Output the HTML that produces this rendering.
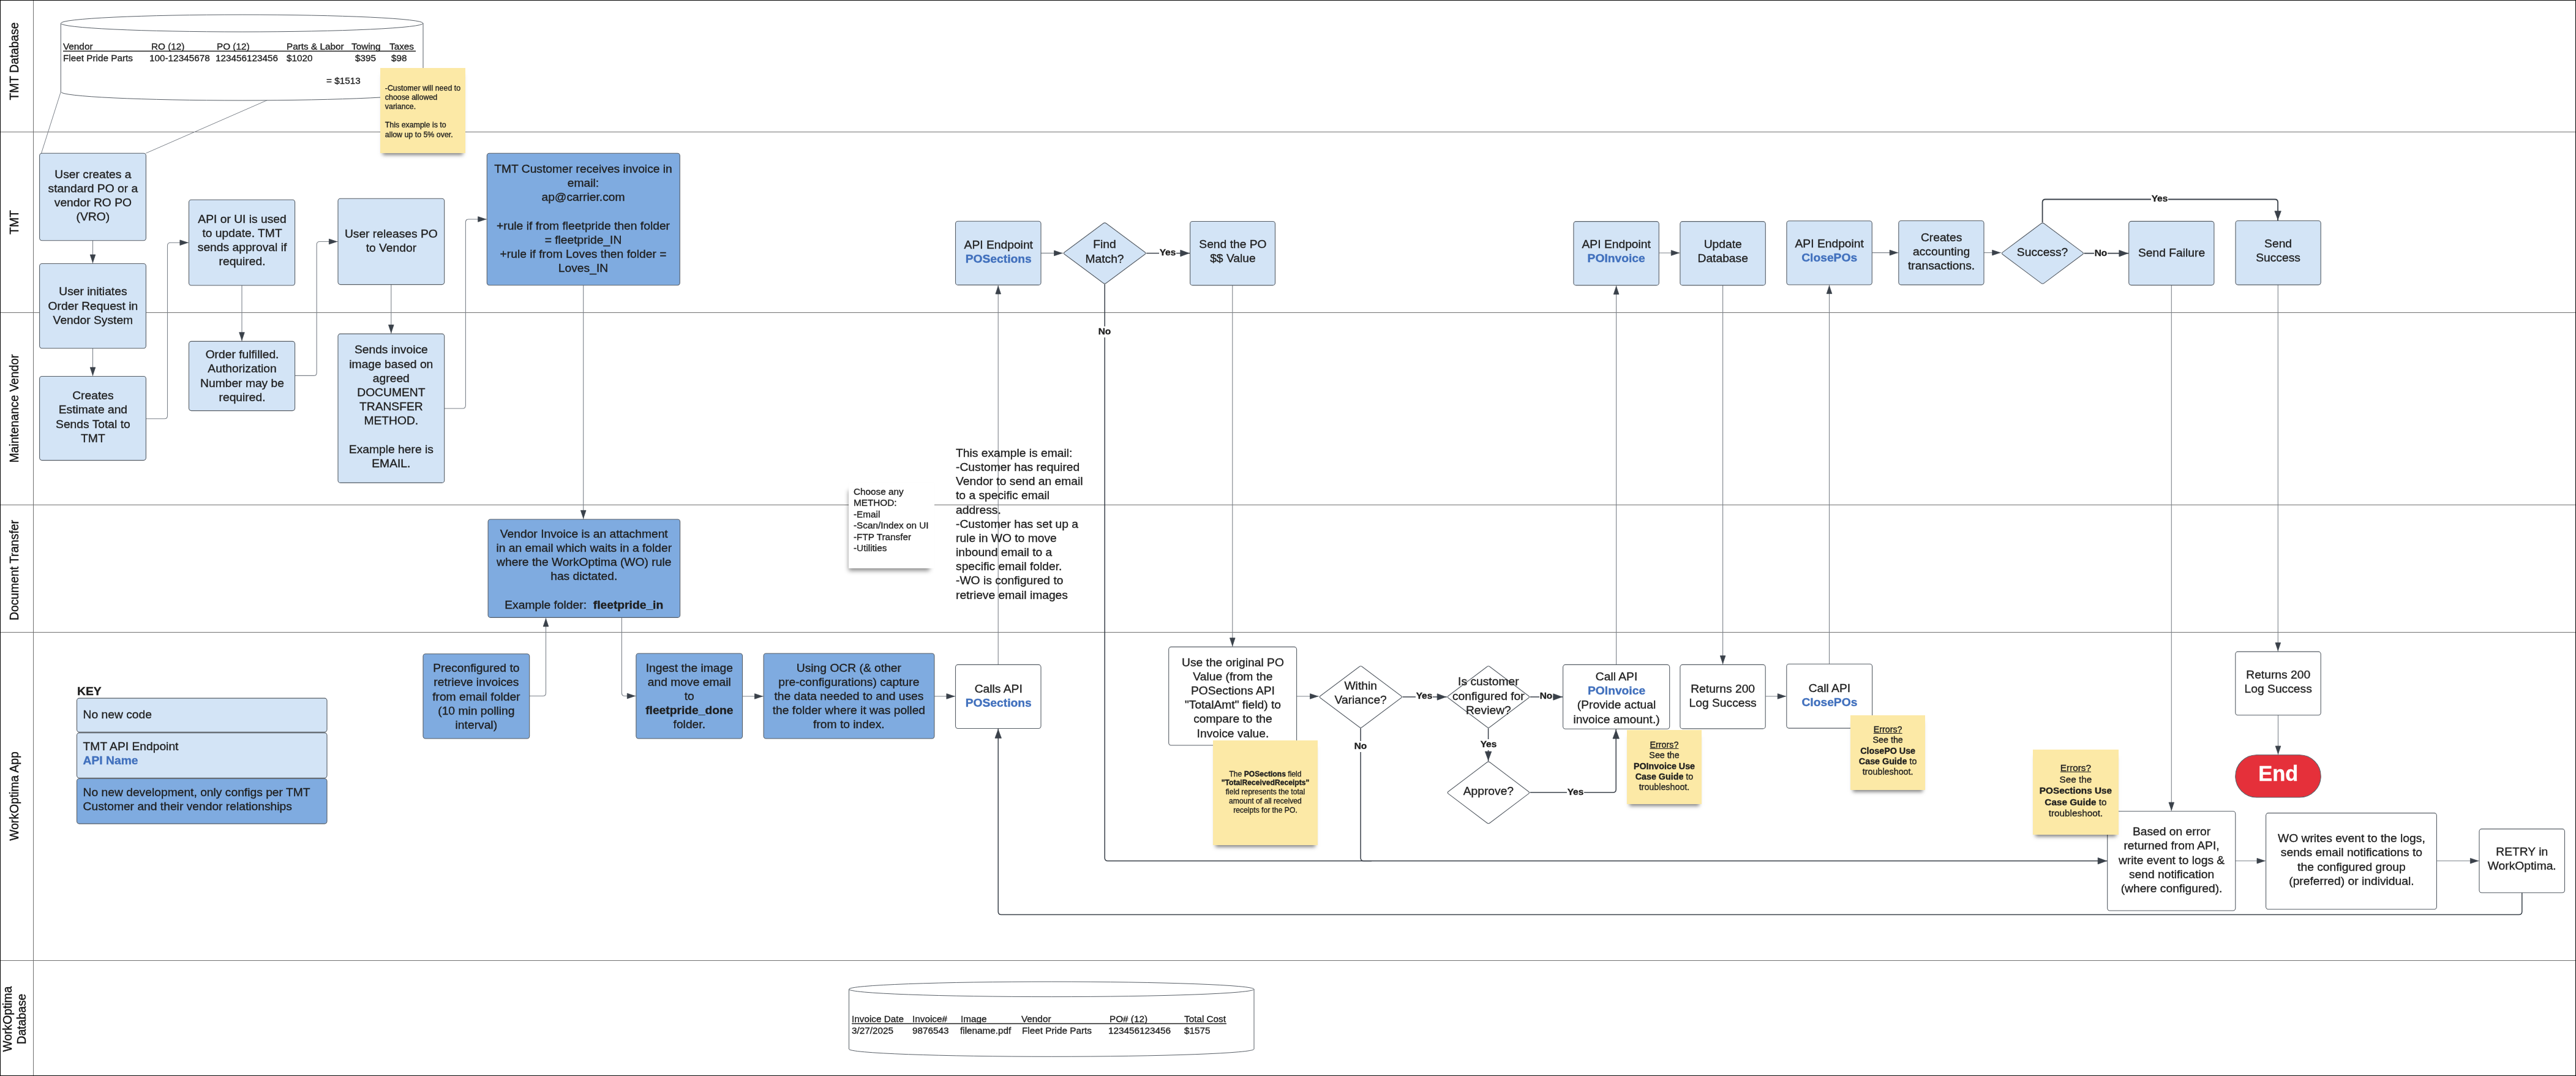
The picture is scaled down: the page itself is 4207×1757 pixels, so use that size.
<!DOCTYPE html>
<html><head><meta charset="utf-8"><title>Swimlane</title>
<style>
html,body{margin:0;padding:0;background:#fff;}
.t,.c,.lbl,.vl{will-change:transform;-webkit-text-stroke:0.35px currentColor;}
#root{position:relative;width:4207px;height:1757px;overflow:hidden;background:#fff;font-family:"Liberation Sans",sans-serif;color:#1f1f1f;}
svg{position:absolute;left:0;top:0;}
.t{position:absolute;display:flex;box-sizing:border-box;white-space:nowrap;}
.c{position:absolute;white-space:nowrap;}
.st{position:absolute;}
.lbl{position:absolute;display:flex;justify-content:center;align-items:flex-start;line-height:16px;color:#1f1f1f;}
.vl{position:absolute;display:flex;justify-content:center;align-items:center;text-align:center;transform:rotate(-90deg);white-space:nowrap;color:#111;}
#frame{position:absolute;left:0;top:0;width:4207px;height:1757px;box-sizing:border-box;border:1px solid #000;pointer-events:none;}
</style></head><body><div id="root">
<svg width="4207" height="1757" viewBox="0 0 4207 1757">
<line x1="0" y1="215.5" x2="4207" y2="215.5" stroke="#707070" stroke-width="1"/>
<line x1="0" y1="510.5" x2="4207" y2="510.5" stroke="#707070" stroke-width="1"/>
<line x1="0" y1="824.5" x2="4207" y2="824.5" stroke="#707070" stroke-width="1"/>
<line x1="0" y1="1032.5" x2="4207" y2="1032.5" stroke="#707070" stroke-width="1"/>
<line x1="0" y1="1568.5" x2="4207" y2="1568.5" stroke="#707070" stroke-width="1"/>
<line x1="54.5" y1="0" x2="54.5" y2="1757" stroke="#707070" stroke-width="1"/>
<path d="M99.3,38 L99.3,150 A295.85,14 0 0 0 691,150 L691,38" fill="#fff" stroke="#565d65" stroke-width="1"/>
<ellipse cx="395.15" cy="38" rx="295.85" ry="14" fill="#fff" stroke="#565d65" stroke-width="1"/>
<line x1="99.3" y1="150" x2="67.5" y2="250.2" stroke="#7c828a" stroke-width="1"/>
<line x1="436.6" y1="163.5" x2="238.3" y2="250.2" stroke="#7c828a" stroke-width="1"/>
<line x1="103" y1="83.4" x2="679" y2="83.4" stroke="#1f1f1f" stroke-width="1.5"/>
<path d="M1386.5,1615.3 L1386.5,1713 A330.75,12.3 0 0 0 2048,1713 L2048,1615.3" fill="#fff" stroke="#565d65" stroke-width="1"/>
<ellipse cx="1717.25" cy="1615.3" rx="330.75" ry="12.3" fill="#fff" stroke="#565d65" stroke-width="1"/>
<line x1="1391" y1="1671.4" x2="2003" y2="1671.4" stroke="#1f1f1f" stroke-width="1.5"/>
<path d="M151.5,392.7 L151.5,430.5" fill="none" stroke="#7c828a" stroke-width="1.1"/>
<path d="M151.5,568.8 L151.5,614.5" fill="none" stroke="#7c828a" stroke-width="1.1"/>
<path d="M238.4,683.8 L268.5,683.8 Q273.5,683.8 273.5,678.8 L273.5,401.2 Q273.5,396.2 278.5,396.2 L308.5,396.2" fill="none" stroke="#7c828a" stroke-width="1.1"/>
<path d="M395.0,466.0 L395.0,557.4" fill="none" stroke="#7c828a" stroke-width="1.1"/>
<path d="M481.6,613.4 L512.2,613.4 Q517.2,613.4 517.2,608.4 L517.2,399.5 Q517.2,394.5 522.2,394.5 L552.0,394.5" fill="none" stroke="#7c828a" stroke-width="1.1"/>
<path d="M638.8,464.6 L638.8,545.1" fill="none" stroke="#7c828a" stroke-width="1.1"/>
<path d="M725.7,667.0 L755.4,667.0 Q760.4,667.0 760.4,662.0 L760.4,363.0 Q760.4,358.0 765.4,358.0 L795.3,358.0" fill="none" stroke="#7c828a" stroke-width="1.1"/>
<path d="M952.7,465.8 L952.7,848.0" fill="none" stroke="#7c828a" stroke-width="1.1"/>
<path d="M864.7,1136.5 L886.5,1136.5 Q891.5,1136.5 891.5,1131.5 L891.5,1008.4" fill="none" stroke="#7c828a" stroke-width="1.1"/>
<path d="M1015.4,1008.4 L1015.4,1131.5 Q1015.4,1136.5 1020.4,1136.5 L1038.9,1136.5" fill="none" stroke="#7c828a" stroke-width="1.1"/>
<path d="M1212.5,1137.0 L1247.1,1137.0" fill="none" stroke="#7c828a" stroke-width="1.1"/>
<path d="M1525.9,1137.0 L1560.5,1137.0" fill="none" stroke="#7c828a" stroke-width="1.1"/>
<path d="M1630.2,1085.4 L1630.2,465.4" fill="none" stroke="#7c828a" stroke-width="1.1"/>
<path d="M1700.0,413.4 L1736.2,413.4" fill="none" stroke="#7c828a" stroke-width="1.1"/>
<path d="M1872.2,413.5 L1943.6,413.5" fill="none" stroke="#3a414a" stroke-width="1.5"/>
<path d="M1804.2,464.0 L1804.2,1400.8 Q1804.2,1405.8 1809.2,1405.8 L3442.0,1405.8" fill="none" stroke="#3a414a" stroke-width="1.5"/>
<path d="M2012.8,465.9 L2012.8,1056.4" fill="none" stroke="#7c828a" stroke-width="1.1"/>
<path d="M2117.6,1137.0 L2154.1,1137.0" fill="none" stroke="#7c828a" stroke-width="1.1"/>
<path d="M2290.5,1138.0 L2363.0,1138.0" fill="none" stroke="#3a414a" stroke-width="1.5"/>
<path d="M2498.7,1138.0 L2552.6,1138.0" fill="none" stroke="#3a414a" stroke-width="1.5"/>
<path d="M2430.6,1189.1 L2430.6,1243.0" fill="none" stroke="#3a414a" stroke-width="1.5"/>
<path d="M2498.7,1294.0 L2634.2,1294.0 Q2639.2,1294.0 2639.2,1289.0 L2639.2,1190.3" fill="none" stroke="#3a414a" stroke-width="1.5"/>
<path d="M2222.1,1189.1 L2222.1,1400.8 Q2222.1,1405.8 2227.1,1405.8 L2240.0,1405.8" fill="none" stroke="#3a414a" stroke-width="1.5"/>
<path d="M2639.6,1085.4 L2639.6,465.9" fill="none" stroke="#7c828a" stroke-width="1.1"/>
<path d="M2709.3,413.0 L2743.9,413.0" fill="none" stroke="#7c828a" stroke-width="1.1"/>
<path d="M2813.6,465.9 L2813.6,1085.4" fill="none" stroke="#7c828a" stroke-width="1.1"/>
<path d="M2883.2,1137.0 L2917.8,1137.0" fill="none" stroke="#7c828a" stroke-width="1.1"/>
<path d="M2987.5,1084.3 L2987.5,465.0" fill="none" stroke="#7c828a" stroke-width="1.1"/>
<path d="M3057.3,412.6 L3100.8,412.6" fill="none" stroke="#7c828a" stroke-width="1.1"/>
<path d="M3240.0,412.6 L3268.3,412.6" fill="none" stroke="#7c828a" stroke-width="1.1"/>
<path d="M3403.5,413.7 L3476.7,413.7" fill="none" stroke="#3a414a" stroke-width="1.8"/>
<path d="M3335.6,363.2 L3335.6,330.5 Q3335.6,325.5 3340.6,325.5 L3715.1,325.5 Q3720.1,325.5 3720.1,330.5 L3720.1,360.5" fill="none" stroke="#3a414a" stroke-width="1.8"/>
<path d="M3546.3,465.6 L3546.3,1324.8" fill="none" stroke="#7c828a" stroke-width="1.1"/>
<path d="M3720.3,465.1 L3720.3,1064.1" fill="none" stroke="#7c828a" stroke-width="1.1"/>
<path d="M3720.5,1167.8 L3720.5,1232.8" fill="none" stroke="#7c828a" stroke-width="1.1"/>
<path d="M3650.8,1405.7 L3700.6,1405.7" fill="none" stroke="#7c828a" stroke-width="1.1"/>
<path d="M3979.4,1405.7 L4049.0,1405.7" fill="none" stroke="#7c828a" stroke-width="1.1"/>
<path d="M4118.8,1457.7 L4118.8,1488.5 Q4118.8,1493.5 4113.8,1493.5 L1635.2,1493.5 Q1630.2,1493.5 1630.2,1488.5 L1630.2,1189.5" fill="none" stroke="#3a414a" stroke-width="1.5"/>
<rect x="64.6" y="250.2" width="173.8" height="142.5" rx="4" ry="4" fill="#d3e4f6" stroke="#565d65" stroke-width="1.1"/>
<rect x="64.6" y="430.5" width="173.8" height="138.3" rx="4" ry="4" fill="#d3e4f6" stroke="#565d65" stroke-width="1.1"/>
<rect x="64.6" y="614.5" width="173.8" height="137.1" rx="4" ry="4" fill="#d3e4f6" stroke="#565d65" stroke-width="1.1"/>
<rect x="308.5" y="326.2" width="173.1" height="139.8" rx="4" ry="4" fill="#d3e4f6" stroke="#565d65" stroke-width="1.1"/>
<rect x="308.5" y="557.4" width="173.1" height="113.2" rx="4" ry="4" fill="#d3e4f6" stroke="#565d65" stroke-width="1.1"/>
<rect x="552.0" y="324.2" width="173.7" height="140.4" rx="4" ry="4" fill="#d3e4f6" stroke="#565d65" stroke-width="1.1"/>
<rect x="552.0" y="545.1" width="173.7" height="243.3" rx="4" ry="4" fill="#d3e4f6" stroke="#565d65" stroke-width="1.1"/>
<rect x="795.3" y="250.2" width="315.0" height="215.6" rx="4" ry="4" fill="#7fabe0" stroke="#565d65" stroke-width="1.1"/>
<rect x="797.1" y="848.0" width="313.5" height="160.4" rx="4" ry="4" fill="#7fabe0" stroke="#565d65" stroke-width="1.1"/>
<rect x="691.0" y="1067.8" width="173.7" height="138.2" rx="4" ry="4" fill="#7fabe0" stroke="#565d65" stroke-width="1.1"/>
<rect x="1038.9" y="1067.0" width="173.6" height="139.0" rx="4" ry="4" fill="#7fabe0" stroke="#565d65" stroke-width="1.1"/>
<rect x="1247.1" y="1067.0" width="278.8" height="139.0" rx="4" ry="4" fill="#7fabe0" stroke="#565d65" stroke-width="1.1"/>
<rect x="1560.5" y="1085.4" width="139.5" height="104.1" rx="4" ry="4" fill="#fff" stroke="#565d65" stroke-width="1.1"/>
<rect x="1560.5" y="361.3" width="139.5" height="104.1" rx="4" ry="4" fill="#d3e4f6" stroke="#565d65" stroke-width="1.1"/>
<path d="M1801.8,364.8 Q1804.2,363.0 1806.6,364.8 L1869.8,411.7 Q1872.2,413.5 1869.8,415.3 L1806.6,462.2 Q1804.2,464.0 1801.8,462.2 L1738.6,415.3 Q1736.2,413.5 1738.6,411.7 Z" fill="#d3e4f6" stroke="#565d65" stroke-width="1.1" stroke-linejoin="round"/>
<rect x="1943.6" y="361.5" width="138.9" height="104.4" rx="4" ry="4" fill="#d3e4f6" stroke="#565d65" stroke-width="1.1"/>
<rect x="1908.7" y="1056.4" width="208.9" height="160.6" rx="4" ry="4" fill="#fff" stroke="#565d65" stroke-width="1.1"/>
<path d="M2219.9,1088.7 Q2222.3,1086.9 2224.7,1088.7 L2288.1,1136.2 Q2290.5,1138.0 2288.1,1139.8 L2224.7,1187.3 Q2222.3,1189.1 2219.9,1187.3 L2156.5,1139.8 Q2154.1,1138.0 2156.5,1136.2 Z" fill="#fff" stroke="#565d65" stroke-width="1.1" stroke-linejoin="round"/>
<path d="M2428.5,1088.7 Q2430.8,1086.9 2433.2,1088.7 L2496.3,1136.2 Q2498.7,1138.0 2496.3,1139.8 L2433.2,1187.3 Q2430.8,1189.1 2428.5,1187.3 L2365.4,1139.8 Q2363.0,1138.0 2365.4,1136.2 Z" fill="#fff" stroke="#565d65" stroke-width="1.1" stroke-linejoin="round"/>
<path d="M2428.5,1244.8 Q2430.8,1243.0 2433.2,1244.8 L2496.3,1292.5 Q2498.7,1294.3 2496.3,1296.1 L2433.2,1343.8 Q2430.8,1345.6 2428.5,1343.8 L2365.4,1296.1 Q2363.0,1294.3 2365.4,1292.5 Z" fill="#fff" stroke="#565d65" stroke-width="1.1" stroke-linejoin="round"/>
<rect x="2552.6" y="1085.4" width="174.1" height="104.9" rx="4" ry="4" fill="#fff" stroke="#565d65" stroke-width="1.1"/>
<rect x="2569.9" y="361.6" width="139.4" height="104.3" rx="4" ry="4" fill="#d3e4f6" stroke="#565d65" stroke-width="1.1"/>
<rect x="2743.9" y="361.6" width="139.4" height="104.3" rx="4" ry="4" fill="#d3e4f6" stroke="#565d65" stroke-width="1.1"/>
<rect x="2743.9" y="1085.4" width="139.3" height="104.5" rx="4" ry="4" fill="#fff" stroke="#565d65" stroke-width="1.1"/>
<rect x="2917.9" y="360.7" width="139.4" height="104.3" rx="4" ry="4" fill="#d3e4f6" stroke="#565d65" stroke-width="1.1"/>
<rect x="2917.8" y="1084.3" width="139.8" height="104.8" rx="4" ry="4" fill="#fff" stroke="#565d65" stroke-width="1.1"/>
<rect x="3100.8" y="360.5" width="139.2" height="104.6" rx="4" ry="4" fill="#d3e4f6" stroke="#565d65" stroke-width="1.1"/>
<path d="M3333.5,365.0 Q3335.9,363.2 3338.3,365.0 L3401.1,411.9 Q3403.5,413.7 3401.1,415.5 L3338.3,462.4 Q3335.9,464.2 3333.5,462.4 L3270.7,415.5 Q3268.3,413.7 3270.7,411.9 Z" fill="#d3e4f6" stroke="#565d65" stroke-width="1.1" stroke-linejoin="round"/>
<rect x="3476.7" y="361.4" width="139.2" height="104.2" rx="4" ry="4" fill="#d3e4f6" stroke="#565d65" stroke-width="1.1"/>
<rect x="3651.0" y="360.5" width="139.2" height="104.6" rx="4" ry="4" fill="#d3e4f6" stroke="#565d65" stroke-width="1.1"/>
<rect x="3650.8" y="1064.1" width="139.4" height="103.7" rx="4" ry="4" fill="#fff" stroke="#565d65" stroke-width="1.1"/>
<rect x="3650.8" y="1232.8" width="139.4" height="69.2" rx="34.6" ry="34.6" fill="#e5303a" stroke="#565d65" stroke-width="1.1"/>
<rect x="3441.7" y="1324.8" width="209.1" height="162.2" rx="4" ry="4" fill="#fff" stroke="#565d65" stroke-width="1.1"/>
<rect x="3700.6" y="1327.6" width="278.8" height="157.1" rx="4" ry="4" fill="#fff" stroke="#565d65" stroke-width="1.1"/>
<rect x="4049.0" y="1353.6" width="139.5" height="104.1" rx="4" ry="4" fill="#fff" stroke="#565d65" stroke-width="1.1"/>
<rect x="125.5" y="1140.1" width="408.5" height="55.2" rx="4" ry="4" fill="#d3e4f6" stroke="#565d65" stroke-width="1.1"/>
<rect x="125.5" y="1196.6" width="408.5" height="73.7" rx="4" ry="4" fill="#d3e4f6" stroke="#565d65" stroke-width="1.1"/>
<rect x="125.5" y="1271.5" width="408.5" height="73.6" rx="4" ry="4" fill="#7fabe0" stroke="#565d65" stroke-width="1.1"/>
</svg>
<div class="vl" style="left:-126.0px;top:69.8px;width:300px;height:60px;font-size:19.3px;line-height:23.4px"><div>TMT Database</div></div>
<div class="vl" style="left:-126.0px;top:332.6px;width:300px;height:60px;font-size:19.3px;line-height:23.4px"><div>TMT</div></div>
<div class="vl" style="left:-126.0px;top:637.0px;width:300px;height:60px;font-size:19.3px;line-height:23.4px"><div>Maintenance Vendor</div></div>
<div class="vl" style="left:-126.0px;top:900.5px;width:300px;height:60px;font-size:19.3px;line-height:23.4px"><div>Document Transfer</div></div>
<div class="vl" style="left:-126.0px;top:1270.2px;width:300px;height:60px;font-size:19.3px;line-height:23.4px"><div>WorkOptima App</div></div>
<div class="vl" style="left:-126.0px;top:1633.5px;width:300px;height:60px;font-size:19.3px;line-height:23.4px"><div>WorkOptima<br>Database</div></div>
<div class="c" style="left:103.4px;top:67.2px;font-size:15.3px;line-height:18.4px">Vendor</div>
<div class="c" style="left:247.0px;top:67.2px;font-size:15.3px;line-height:18.4px">RO (12)</div>
<div class="c" style="left:353.6px;top:67.2px;font-size:15.3px;line-height:18.4px">PO (12)</div>
<div class="c" style="left:468.0px;top:67.2px;font-size:15.3px;line-height:18.4px">Parts &amp; Labor</div>
<div class="c" style="left:574.0px;top:67.2px;font-size:15.3px;line-height:18.4px">Towing</div>
<div class="c" style="left:635.7px;top:67.2px;font-size:15.3px;line-height:18.4px">Taxes</div>
<div class="c" style="left:103.4px;top:86.0px;font-size:15.3px;line-height:18.4px">Fleet Pride Parts</div>
<div class="c" style="left:244.0px;top:86.0px;font-size:15.3px;line-height:18.4px">100-12345678</div>
<div class="c" style="left:352.4px;top:86.0px;font-size:15.3px;line-height:18.4px">123456123456</div>
<div class="c" style="left:468.0px;top:86.0px;font-size:15.3px;line-height:18.4px">$1020</div>
<div class="c" style="left:579.7px;top:86.0px;font-size:15.3px;line-height:18.4px">$395</div>
<div class="c" style="left:639.0px;top:86.0px;font-size:15.3px;line-height:18.4px">$98</div>
<div class="c" style="left:532.7px;top:123.4px;font-size:15.3px;line-height:18.4px">= $1513</div>
<div class="c" style="left:1391.4px;top:1655.3px;font-size:15.3px;line-height:18.4px">Invoice Date</div>
<div class="c" style="left:1490.4px;top:1655.3px;font-size:15.3px;line-height:18.4px">Invoice#</div>
<div class="c" style="left:1569.3px;top:1655.3px;font-size:15.3px;line-height:18.4px">Image</div>
<div class="c" style="left:1668.0px;top:1655.3px;font-size:15.3px;line-height:18.4px">Vendor</div>
<div class="c" style="left:1811.5px;top:1655.3px;font-size:15.3px;line-height:18.4px">PO# (12)</div>
<div class="c" style="left:1934.3px;top:1655.3px;font-size:15.3px;line-height:18.4px">Total Cost</div>
<div class="c" style="left:1391.4px;top:1674.1px;font-size:15.3px;line-height:18.4px">3/27/2025</div>
<div class="c" style="left:1490.4px;top:1674.1px;font-size:15.3px;line-height:18.4px">9876543</div>
<div class="c" style="left:1568.0px;top:1674.1px;font-size:15.3px;line-height:18.4px">filename.pdf</div>
<div class="c" style="left:1668.6px;top:1674.1px;font-size:15.3px;line-height:18.4px">Fleet Pride Parts</div>
<div class="c" style="left:1809.9px;top:1674.1px;font-size:15.3px;line-height:18.4px">123456123456</div>
<div class="c" style="left:1933.6px;top:1674.1px;font-size:15.3px;line-height:18.4px">$1575</div>
<div class="t" style="left:64.6px;top:248.2px;width:173.8px;height:142.5px;justify-content:center;align-items:center;font-size:19.25px;line-height:23.15px;text-align:center;font-weight:400;color:#1f1f1f;padding:0;"><div>User creates a<br>standard PO or a<br>vendor RO PO<br>(VRO)</div></div>
<div class="t" style="left:64.6px;top:430.0px;width:173.8px;height:138.3px;justify-content:center;align-items:center;font-size:19.25px;line-height:23.15px;text-align:center;font-weight:400;color:#1f1f1f;padding:0;"><div>User initiates<br>Order Request in<br>Vendor System</div></div>
<div class="t" style="left:64.6px;top:611.8px;width:173.8px;height:137.1px;justify-content:center;align-items:center;font-size:19.25px;line-height:23.15px;text-align:center;font-weight:400;color:#1f1f1f;padding:0;"><div>Creates<br>Estimate and<br>Sends Total to<br>TMT</div></div>
<div class="t" style="left:308.5px;top:321.6px;width:173.1px;height:139.8px;justify-content:center;align-items:center;font-size:19.25px;line-height:23.15px;text-align:center;font-weight:400;color:#1f1f1f;padding:0;"><div>API or UI is used<br>to update. TMT<br>sends approval if<br>required.</div></div>
<div class="t" style="left:308.5px;top:557.4px;width:173.1px;height:113.2px;justify-content:center;align-items:center;font-size:19.25px;line-height:23.15px;text-align:center;font-weight:400;color:#1f1f1f;padding:0;"><div>Order fulfilled.<br>Authorization<br>Number may be<br>required.</div></div>
<div class="t" style="left:552.0px;top:322.5px;width:173.7px;height:140.4px;justify-content:center;align-items:center;font-size:19.25px;line-height:23.15px;text-align:center;font-weight:400;color:#1f1f1f;padding:0;"><div>User releases PO<br>to Vendor</div></div>
<div class="t" style="left:552.0px;top:542.3px;width:173.7px;height:243.3px;justify-content:center;align-items:center;font-size:19.25px;line-height:23.15px;text-align:center;font-weight:400;color:#1f1f1f;padding:0;"><div>Sends invoice<br>image based on<br>agreed<br>DOCUMENT<br>TRANSFER<br>METHOD.<br><br>Example here is<br>EMAIL.</div></div>
<div class="t" style="left:795.3px;top:249.2px;width:315.0px;height:215.6px;justify-content:center;align-items:center;font-size:19.25px;line-height:23.15px;text-align:center;font-weight:400;color:#1f1f1f;padding:0;"><div>TMT Customer receives invoice in<br>email:<br>ap@carrier.com<br><br>+rule if from fleetpride then folder<br>= fleetpride_IN<br>+rule if from Loves then folder =<br>Loves_IN</div></div>
<div class="t" style="left:797.1px;top:849.3px;width:313.5px;height:160.4px;justify-content:center;align-items:center;font-size:19.25px;line-height:23.15px;text-align:center;font-weight:400;color:#1f1f1f;padding:0;"><div>Vendor Invoice is an attachment<br>in an email which waits in a folder<br>where the WorkOptima (WO) rule<br>has dictated.<br><br>Example folder:&nbsp; <b>fleetpride_in</b></div></div>
<div class="t" style="left:691.0px;top:1067.8px;width:173.7px;height:138.2px;justify-content:center;align-items:center;font-size:19.25px;line-height:23.15px;text-align:center;font-weight:400;color:#1f1f1f;padding:0;"><div>Preconfigured to<br>retrieve invoices<br>from email folder<br>(10 min polling<br>interval)</div></div>
<div class="t" style="left:1038.9px;top:1067.0px;width:173.6px;height:139.0px;justify-content:center;align-items:center;font-size:19.25px;line-height:23.15px;text-align:center;font-weight:400;color:#1f1f1f;padding:0;"><div>Ingest the image<br>and move email<br>to<br><b>fleetpride_done</b><br>folder.</div></div>
<div class="t" style="left:1247.1px;top:1067.0px;width:278.8px;height:139.0px;justify-content:center;align-items:center;font-size:19.25px;line-height:23.15px;text-align:center;font-weight:400;color:#1f1f1f;padding:0;"><div>Using OCR (&amp; other<br>pre-configurations) capture<br>the data needed to and uses<br>the folder where it was polled<br>from to index.</div></div>
<div class="t" style="left:1560.5px;top:1083.6px;width:139.5px;height:104.1px;justify-content:center;align-items:center;font-size:19.25px;line-height:23.15px;text-align:center;font-weight:400;color:#1f1f1f;padding:0;"><div>Calls API<br><b style="color:#4170bd">POSections</b></div></div>
<div class="t" style="left:1560.5px;top:359.0px;width:139.5px;height:104.1px;justify-content:center;align-items:center;font-size:19.25px;line-height:23.15px;text-align:center;font-weight:400;color:#1f1f1f;padding:0;"><div>API Endpoint<br><b style="color:#4170bd">POSections</b></div></div>
<div class="t" style="left:1716.2px;top:359.6px;width:176.0px;height:101.0px;justify-content:center;align-items:center;font-size:19.25px;line-height:23.15px;text-align:center;font-weight:400;color:#1f1f1f;padding:0;"><div>Find<br>Match?</div></div>
<div class="t" style="left:1943.6px;top:358.2px;width:138.9px;height:104.4px;justify-content:center;align-items:center;font-size:19.25px;line-height:23.15px;text-align:center;font-weight:400;color:#1f1f1f;padding:0;"><div>Send the PO<br>$$ Value</div></div>
<div class="t" style="left:1908.7px;top:1058.8px;width:208.9px;height:160.6px;justify-content:center;align-items:center;font-size:19.25px;line-height:23.15px;text-align:center;font-weight:400;color:#1f1f1f;padding:0;"><div>Use the original PO<br>Value (from the<br>POSections API<br>"TotalAmt" field) to<br>compare to the<br>Invoice value.</div></div>
<div class="t" style="left:2134.1px;top:1080.3px;width:176.4px;height:102.2px;justify-content:center;align-items:center;font-size:19.25px;line-height:23.15px;text-align:center;font-weight:400;color:#1f1f1f;padding:0;"><div>Within<br>Variance?</div></div>
<div class="t" style="left:2343.0px;top:1084.6px;width:175.7px;height:102.2px;justify-content:center;align-items:center;font-size:19.25px;line-height:23.15px;text-align:center;font-weight:400;color:#1f1f1f;padding:0;"><div>Is customer<br>configured for<br>Review?</div></div>
<div class="t" style="left:2343.0px;top:1240.4px;width:175.7px;height:102.6px;justify-content:center;align-items:center;font-size:19.25px;line-height:23.15px;text-align:center;font-weight:400;color:#1f1f1f;padding:0;"><div>Approve?</div></div>
<div class="t" style="left:2552.6px;top:1087.4px;width:174.1px;height:104.9px;justify-content:center;align-items:center;font-size:19.25px;line-height:23.15px;text-align:center;font-weight:400;color:#1f1f1f;padding:0;"><div>Call API<br><b style="color:#4170bd">POInvoice</b><br>(Provide actual<br>invoice amount.)</div></div>
<div class="t" style="left:2569.9px;top:357.9px;width:139.4px;height:104.3px;justify-content:center;align-items:center;font-size:19.25px;line-height:23.15px;text-align:center;font-weight:400;color:#1f1f1f;padding:0;"><div>API Endpoint<br><b style="color:#4170bd">POInvoice</b></div></div>
<div class="t" style="left:2743.9px;top:357.9px;width:139.4px;height:104.3px;justify-content:center;align-items:center;font-size:19.25px;line-height:23.15px;text-align:center;font-weight:400;color:#1f1f1f;padding:0;"><div>Update<br>Database</div></div>
<div class="t" style="left:2743.9px;top:1083.9px;width:139.3px;height:104.5px;justify-content:center;align-items:center;font-size:19.25px;line-height:23.15px;text-align:center;font-weight:400;color:#1f1f1f;padding:0;"><div>Returns 200<br>Log Success</div></div>
<div class="t" style="left:2917.9px;top:357.2px;width:139.4px;height:104.3px;justify-content:center;align-items:center;font-size:19.25px;line-height:23.15px;text-align:center;font-weight:400;color:#1f1f1f;padding:0;"><div>API Endpoint<br><b style="color:#4170bd">ClosePOs</b></div></div>
<div class="t" style="left:2917.8px;top:1082.6px;width:139.8px;height:104.8px;justify-content:center;align-items:center;font-size:19.25px;line-height:23.15px;text-align:center;font-weight:400;color:#1f1f1f;padding:0;"><div>Call API<br><b style="color:#4170bd">ClosePOs</b></div></div>
<div class="t" style="left:3100.8px;top:358.1px;width:139.2px;height:104.6px;justify-content:center;align-items:center;font-size:19.25px;line-height:23.15px;text-align:center;font-weight:400;color:#1f1f1f;padding:0;"><div>Creates<br>accounting<br>transactions.</div></div>
<div class="t" style="left:3248.3px;top:360.5px;width:175.2px;height:101.0px;justify-content:center;align-items:center;font-size:19.25px;line-height:23.15px;text-align:center;font-weight:400;color:#1f1f1f;padding:0;"><div>Success?</div></div>
<div class="t" style="left:3476.7px;top:359.8px;width:139.2px;height:104.2px;justify-content:center;align-items:center;font-size:19.25px;line-height:23.15px;text-align:center;font-weight:400;color:#1f1f1f;padding:0;"><div>Send Failure</div></div>
<div class="t" style="left:3651.0px;top:357.3px;width:139.2px;height:104.6px;justify-content:center;align-items:center;font-size:19.25px;line-height:23.15px;text-align:center;font-weight:400;color:#1f1f1f;padding:0;"><div>Send<br>Success</div></div>
<div class="t" style="left:3650.8px;top:1061.2px;width:139.4px;height:103.7px;justify-content:center;align-items:center;font-size:19.25px;line-height:23.15px;text-align:center;font-weight:400;color:#1f1f1f;padding:0;"><div>Returns 200<br>Log Success</div></div>
<div class="t" style="left:3650.8px;top:1227.8px;width:139.4px;height:69.2px;justify-content:center;align-items:center;font-size:34.4px;line-height:40px;text-align:center;font-weight:700;color:#fff;padding:0;"><div>End</div></div>
<div class="t" style="left:3441.7px;top:1322.8px;width:209.1px;height:162.2px;justify-content:center;align-items:center;font-size:19.25px;line-height:23.15px;text-align:center;font-weight:400;color:#1f1f1f;padding:0;"><div>Based on error<br>returned from API,<br>write event to logs &amp;<br>send notification<br>(where configured).</div></div>
<div class="t" style="left:3700.6px;top:1324.7px;width:278.8px;height:157.1px;justify-content:center;align-items:center;font-size:19.25px;line-height:23.15px;text-align:center;font-weight:400;color:#1f1f1f;padding:0;"><div>WO writes event to the logs,<br>sends email notifications to<br>the configured group<br>(preferred) or individual.</div></div>
<div class="t" style="left:4049.0px;top:1350.3px;width:139.5px;height:104.1px;justify-content:center;align-items:center;font-size:19.25px;line-height:23.15px;text-align:center;font-weight:400;color:#1f1f1f;padding:0;"><div>RETRY in<br>WorkOptima.</div></div>
<div class="lbl" style="left:1867.3px;top:404.0px;width:80px;height:20px;font-size:15.5px;font-weight:700"><span style="background:#fff;padding:0 1px 2.7px 1px;line-height:15.5px;display:inline-block">Yes</span></div>
<div class="lbl" style="left:1764.2px;top:532.9px;width:80px;height:20px;font-size:15.5px;font-weight:700"><span style="background:#fff;padding:0 1px 2.7px 1px;line-height:15.5px;display:inline-block">No</span></div>
<div class="lbl" style="left:2286.3px;top:1128.0px;width:80px;height:20px;font-size:15.5px;font-weight:700"><span style="background:#fff;padding:0 1px 2.7px 1px;line-height:15.5px;display:inline-block">Yes</span></div>
<div class="lbl" style="left:2484.7px;top:1128.0px;width:80px;height:20px;font-size:15.5px;font-weight:700"><span style="background:#fff;padding:0 1px 2.7px 1px;line-height:15.5px;display:inline-block">No</span></div>
<div class="lbl" style="left:2390.6px;top:1206.5px;width:80px;height:20px;font-size:15.5px;font-weight:700"><span style="background:#fff;padding:0 1px 2.7px 1px;line-height:15.5px;display:inline-block">Yes</span></div>
<div class="lbl" style="left:2533.2px;top:1284.9px;width:80px;height:20px;font-size:15.5px;font-weight:700"><span style="background:#fff;padding:0 1px 2.7px 1px;line-height:15.5px;display:inline-block">Yes</span></div>
<div class="lbl" style="left:2182.1px;top:1209.5px;width:80px;height:20px;font-size:15.5px;font-weight:700"><span style="background:#fff;padding:0 1px 2.7px 1px;line-height:15.5px;display:inline-block">No</span></div>
<div class="lbl" style="left:3390.7px;top:404.5px;width:80px;height:20px;font-size:15.5px;font-weight:700"><span style="background:#fff;padding:0 1px 2.7px 1px;line-height:15.5px;display:inline-block">No</span></div>
<div class="lbl" style="left:3487.0px;top:316.1px;width:80px;height:20px;font-size:15.5px;font-weight:700"><span style="background:#fff;padding:0 1px 2.7px 1px;line-height:15.5px;display:inline-block">Yes</span></div>
<div class="st" style="left:620.6px;top:111.2px;width:139.0px;height:139.0px;background:#fce9a6;box-shadow: 0px 7px 6px -4px rgba(0,0,0,0.5);"></div>
<div class="t" style="left:620.6px;top:111.2px;width:139.0px;height:139.0px;justify-content:flex-start;align-items:center;font-size:12.4px;line-height:15.1px;text-align:left;font-weight:400;color:#1f1f1f;padding:3.8px 0 0 7.8px;"><div>-Customer will need to<br>choose allowed<br>variance.<br><br>This example is to<br>allow up to 5% over.</div></div>
<div class="st" style="left:1386px;top:788.7px;width:140px;height:139.3px;background:#fff;box-shadow:-4px 8px 7px -4px rgba(0,0,0,0.45), 0 0 1px rgba(0,0,0,0.06)"></div>
<div class="t" style="left:1386.0px;top:788.7px;width:140.0px;height:139.3px;justify-content:flex-start;align-items:flex-start;font-size:15.3px;line-height:18.4px;text-align:left;font-weight:400;color:#1f1f1f;padding:5px 0 0 8px;"><div>Choose any<br>METHOD:<br>-Email<br>-Scan/Index on UI<br>-FTP Transfer<br>-Utilities</div></div>
<div class="st" style="left:1981.2px;top:1208.8px;width:171.0px;height:171.0px;background:#fce9a6;box-shadow: 0px 7px 6px -4px rgba(0,0,0,0.5);"></div>
<div class="t" style="left:1981.2px;top:1207.8px;width:171.0px;height:171.0px;justify-content:center;align-items:center;font-size:12.15px;line-height:14.7px;text-align:center;font-weight:400;color:#1f1f1f;padding:0;"><div>The <b>POSections</b> field<br><b>"TotalReceivedReceipts"</b><br>field represents the total<br>amount of all received<br>receipts for the PO.</div></div>
<div class="st" style="left:2656.6px;top:1192.1px;width:122.0px;height:120.8px;background:#fce9a6;box-shadow: 0px 7px 6px -4px rgba(0,0,0,0.5);"></div>
<div class="t" style="left:2656.6px;top:1191.4px;width:122.0px;height:120.8px;justify-content:center;align-items:center;font-size:14.3px;line-height:17.3px;text-align:center;font-weight:400;color:#1f1f1f;padding:0;"><div><u>Errors?</u><br>See the<br><b>POInvoice Use<br>Case Guide</b> to<br>troubleshoot.</div></div>
<div class="st" style="left:3021.9px;top:1167.9px;width:122.3px;height:122.3px;background:#fce9a6;box-shadow: 0px 7px 6px -4px rgba(0,0,0,0.5);"></div>
<div class="t" style="left:3021.9px;top:1165.4px;width:122.3px;height:122.3px;justify-content:center;align-items:center;font-size:14.3px;line-height:17.3px;text-align:center;font-weight:400;color:#1f1f1f;padding:0;"><div><u>Errors?</u><br>See the<br><b>ClosePO Use<br>Case Guide</b> to<br>troubleshoot.</div></div>
<div class="st" style="left:3320.0px;top:1223.6px;width:139.9px;height:139.2px;background:#fce9a6;box-shadow: 0px 7px 6px -4px rgba(0,0,0,0.5);"></div>
<div class="t" style="left:3320.0px;top:1222.0px;width:139.9px;height:139.2px;justify-content:center;align-items:center;font-size:15.3px;line-height:18.5px;text-align:center;font-weight:400;color:#1f1f1f;padding:0;"><div><u>Errors?</u><br>See the<br><b>POSections Use<br>Case Guide</b> to<br>troubleshoot.</div></div>
<div class="t" style="left:1561.0px;top:728.0px;width:239.0px;height:263.0px;justify-content:flex-start;align-items:flex-start;font-size:19.25px;line-height:23.15px;text-align:left;font-weight:400;color:#1f1f1f;padding:0;"><div>This example is email:<br>-Customer has required<br>Vendor to send an email<br>to a specific email<br>address.<br>-Customer has set up a<br>rule in WO to move<br>inbound email to a<br>specific email folder.<br>-WO is configured to<br>retrieve email images</div></div>
<div class="c" style="left:125.5px;top:1117.4px;font-size:19.25px;line-height:23px;font-weight:700">KEY</div>
<div class="t" style="left:125.5px;top:1138.9px;width:408.5px;height:55.2px;justify-content:flex-start;align-items:center;font-size:19.25px;line-height:23.15px;text-align:left;font-weight:400;color:#1f1f1f;padding:0 0 0 9.6px;"><div>No new code</div></div>
<div class="t" style="left:125.5px;top:1193.4px;width:408.5px;height:73.7px;justify-content:flex-start;align-items:center;font-size:19.25px;line-height:23.15px;text-align:left;font-weight:400;color:#1f1f1f;padding:0 0 0 9.6px;"><div>TMT API Endpoint<br><b style="color:#4170bd">API Name</b></div></div>
<div class="t" style="left:125.5px;top:1268.3px;width:408.5px;height:73.6px;justify-content:flex-start;align-items:center;font-size:19.25px;line-height:23.15px;text-align:left;font-weight:400;color:#1f1f1f;padding:0 0 0 9.6px;"><div>No new development, only configs per TMT<br>Customer and their vendor relationships</div></div>
<svg width="4207" height="1757" viewBox="0 0 4207 1757" style="pointer-events:none">
<path d="M151.5,428.7 L147.2,415.9 L155.8,415.9 Z" fill="#3a414a" stroke="#3a414a" stroke-width="0.8" stroke-linejoin="miter"/>
<path d="M151.5,612.7 L147.2,599.9 L155.8,599.9 Z" fill="#3a414a" stroke="#3a414a" stroke-width="0.8" stroke-linejoin="miter"/>
<path d="M306.7,396.2 L293.9,391.9 L293.9,400.5 Z" fill="#3a414a" stroke="#3a414a" stroke-width="0.8" stroke-linejoin="miter"/>
<path d="M395.0,555.6 L390.7,542.8 L399.3,542.8 Z" fill="#3a414a" stroke="#3a414a" stroke-width="0.8" stroke-linejoin="miter"/>
<path d="M550.2,394.5 L537.4,390.2 L537.4,398.8 Z" fill="#3a414a" stroke="#3a414a" stroke-width="0.8" stroke-linejoin="miter"/>
<path d="M638.8,543.3 L634.5,530.5 L643.1,530.5 Z" fill="#3a414a" stroke="#3a414a" stroke-width="0.8" stroke-linejoin="miter"/>
<path d="M793.5,358.0 L780.7,353.7 L780.7,362.3 Z" fill="#3a414a" stroke="#3a414a" stroke-width="0.8" stroke-linejoin="miter"/>
<path d="M952.7,846.2 L948.4,833.4 L957.0,833.4 Z" fill="#3a414a" stroke="#3a414a" stroke-width="0.8" stroke-linejoin="miter"/>
<path d="M891.5,1010.2 L887.2,1023.0 L895.8,1023.0 Z" fill="#3a414a" stroke="#3a414a" stroke-width="0.8" stroke-linejoin="miter"/>
<path d="M1037.1,1136.5 L1024.3,1132.2 L1024.3,1140.8 Z" fill="#3a414a" stroke="#3a414a" stroke-width="0.8" stroke-linejoin="miter"/>
<path d="M1245.3,1137.0 L1232.5,1132.7 L1232.5,1141.3 Z" fill="#3a414a" stroke="#3a414a" stroke-width="0.8" stroke-linejoin="miter"/>
<path d="M1558.7,1137.0 L1545.9,1132.7 L1545.9,1141.3 Z" fill="#3a414a" stroke="#3a414a" stroke-width="0.8" stroke-linejoin="miter"/>
<path d="M1630.2,467.2 L1625.9,480.0 L1634.5,480.0 Z" fill="#3a414a" stroke="#3a414a" stroke-width="0.8" stroke-linejoin="miter"/>
<path d="M1734.4,413.4 L1721.6,409.1 L1721.6,417.7 Z" fill="#3a414a" stroke="#3a414a" stroke-width="0.8" stroke-linejoin="miter"/>
<path d="M1941.8,413.5 L1927.8,408.3 L1927.8,418.7 Z" fill="#3a414a" stroke="#3a414a" stroke-width="0.8" stroke-linejoin="miter"/>
<path d="M3440.2,1405.8 L3426.2,1400.6 L3426.2,1411.0 Z" fill="#3a414a" stroke="#3a414a" stroke-width="0.8" stroke-linejoin="miter"/>
<path d="M2012.8,1054.6 L2008.5,1041.8 L2017.1,1041.8 Z" fill="#3a414a" stroke="#3a414a" stroke-width="0.8" stroke-linejoin="miter"/>
<path d="M2152.3,1137.0 L2139.5,1132.7 L2139.5,1141.3 Z" fill="#3a414a" stroke="#3a414a" stroke-width="0.8" stroke-linejoin="miter"/>
<path d="M2361.2,1138.0 L2347.2,1132.8 L2347.2,1143.2 Z" fill="#3a414a" stroke="#3a414a" stroke-width="0.8" stroke-linejoin="miter"/>
<path d="M2550.8,1138.0 L2536.8,1132.8 L2536.8,1143.2 Z" fill="#3a414a" stroke="#3a414a" stroke-width="0.8" stroke-linejoin="miter"/>
<path d="M2430.6,1241.2 L2425.4,1227.2 L2435.8,1227.2 Z" fill="#3a414a" stroke="#3a414a" stroke-width="0.8" stroke-linejoin="miter"/>
<path d="M2639.2,1192.1 L2634.0,1206.1 L2644.4,1206.1 Z" fill="#3a414a" stroke="#3a414a" stroke-width="0.8" stroke-linejoin="miter"/>
<path d="M2639.6,467.7 L2635.3,480.5 L2643.9,480.5 Z" fill="#3a414a" stroke="#3a414a" stroke-width="0.8" stroke-linejoin="miter"/>
<path d="M2742.1,413.0 L2729.3,408.7 L2729.3,417.3 Z" fill="#3a414a" stroke="#3a414a" stroke-width="0.8" stroke-linejoin="miter"/>
<path d="M2813.6,1083.6 L2809.3,1070.8 L2817.9,1070.8 Z" fill="#3a414a" stroke="#3a414a" stroke-width="0.8" stroke-linejoin="miter"/>
<path d="M2916.0,1137.0 L2903.2,1132.7 L2903.2,1141.3 Z" fill="#3a414a" stroke="#3a414a" stroke-width="0.8" stroke-linejoin="miter"/>
<path d="M2987.5,466.8 L2983.2,479.6 L2991.8,479.6 Z" fill="#3a414a" stroke="#3a414a" stroke-width="0.8" stroke-linejoin="miter"/>
<path d="M3099.0,412.6 L3086.2,408.3 L3086.2,416.9 Z" fill="#3a414a" stroke="#3a414a" stroke-width="0.8" stroke-linejoin="miter"/>
<path d="M3266.5,412.6 L3253.7,408.3 L3253.7,416.9 Z" fill="#3a414a" stroke="#3a414a" stroke-width="0.8" stroke-linejoin="miter"/>
<path d="M3474.9,413.7 L3460.9,408.5 L3460.9,418.9 Z" fill="#3a414a" stroke="#3a414a" stroke-width="0.8" stroke-linejoin="miter"/>
<path d="M3720.1,358.7 L3714.9,344.7 L3725.3,344.7 Z" fill="#3a414a" stroke="#3a414a" stroke-width="0.8" stroke-linejoin="miter"/>
<path d="M3546.3,1323.0 L3542.0,1310.2 L3550.6,1310.2 Z" fill="#3a414a" stroke="#3a414a" stroke-width="0.8" stroke-linejoin="miter"/>
<path d="M3720.3,1062.3 L3716.0,1049.5 L3724.6,1049.5 Z" fill="#3a414a" stroke="#3a414a" stroke-width="0.8" stroke-linejoin="miter"/>
<path d="M3720.5,1231.0 L3716.2,1218.2 L3724.8,1218.2 Z" fill="#3a414a" stroke="#3a414a" stroke-width="0.8" stroke-linejoin="miter"/>
<path d="M3698.8,1405.7 L3686.0,1401.4 L3686.0,1410.0 Z" fill="#3a414a" stroke="#3a414a" stroke-width="0.8" stroke-linejoin="miter"/>
<path d="M4047.2,1405.7 L4034.4,1401.4 L4034.4,1410.0 Z" fill="#3a414a" stroke="#3a414a" stroke-width="0.8" stroke-linejoin="miter"/>
<path d="M1630.2,1191.3 L1625.0,1205.3 L1635.4,1205.3 Z" fill="#3a414a" stroke="#3a414a" stroke-width="0.8" stroke-linejoin="miter"/>
</svg>
<div id="frame"></div>
</div></body></html>
